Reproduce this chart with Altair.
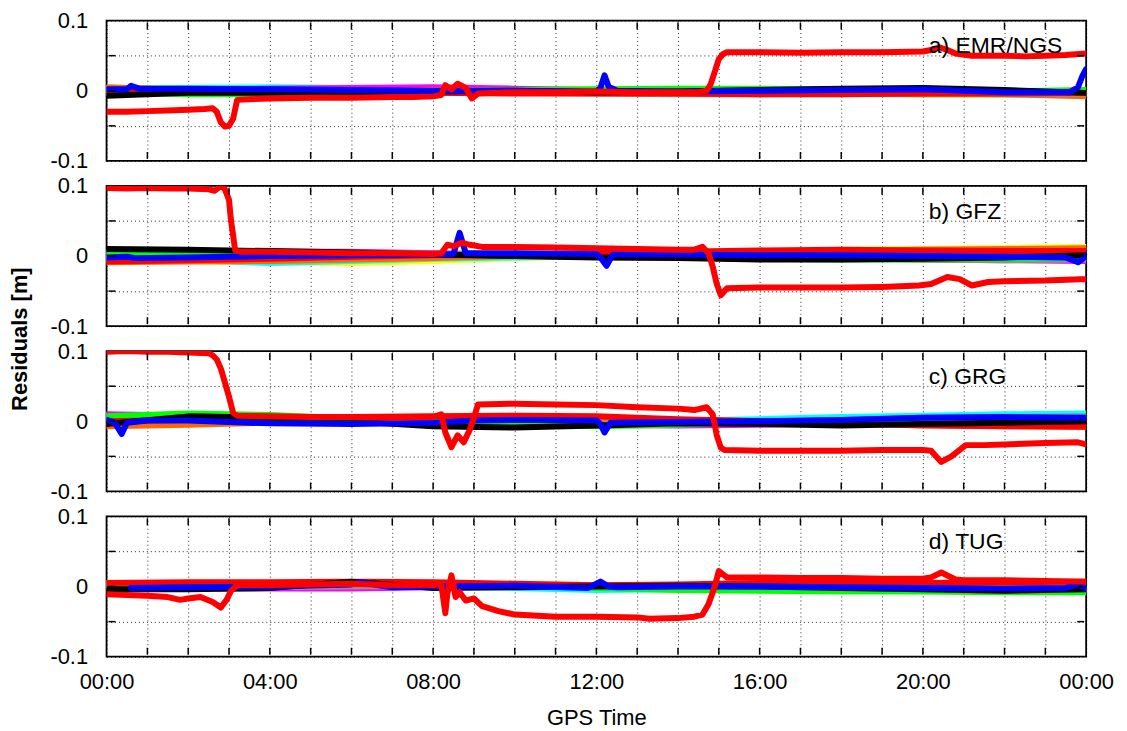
import altair as alt
import pandas as pd

FONT = "Liberation Sans"

# ---------------- data ----------------
panel_ids = ["a", "b", "c", "d"]
panel_labels = ["a) EMR/NGS", "b) GFZ", "c) GRG", "d) TUG"]

# minor tick positions (hours / metres)
tick_hours = list(range(1, 24))
tick_resid = [-0.05, 0.0, 0.05]

# common 2-hour time grid for the background satellites (hours)
t_bg = [0, 2, 4, 6, 8, 10, 12, 14, 16, 18, 20, 22, 24]

# ---- panel a) EMR/NGS ----
a_yellow = [0.004, 0.004, 0.003, 0.002, 0.001, 0.001, 0.0, -0.002, -0.003, -0.004, -0.005, -0.006, -0.005]
a_cyan = [0.003, 0.004, 0.005, 0.004, 0.003, 0.001, -0.001, -0.003, -0.005, -0.005, -0.005, -0.004, -0.003]
a_magenta = [0.002, 0.001, 0.003, 0.004, 0.005, 0.003, 0.001, 0.0, 0.0, -0.001, -0.001, -0.002, -0.001]
a_orange = [0.005, 0.001, 0.0, -0.001, 0.001, 0.0, -0.001, -0.003, -0.004, -0.004, -0.005, -0.005, -0.008]
a_gray = [-0.003, -0.003, -0.004, -0.004, -0.003, -0.003, -0.004, -0.005, -0.005, -0.004, -0.004, -0.005, -0.004]
a_green = [-0.002, -0.005, -0.005, -0.004, -0.001, 0.001, 0.002, 0.003, 0.003, 0.002, 0.0, -0.001, 0.001]
a_red2 = [0.001, 0.0, -0.001, -0.002, -0.003, -0.004, -0.004, -0.004, -0.005, -0.005, -0.004, -0.004, -0.003]
a_black = [-0.007, -0.003, -0.003, -0.002, -0.001, 0.0, -0.002, -0.001, 0.001, 0.003, 0.004, 0.001, -0.003]
a_blue_t = [0, 0.5, 0.6, 0.8, 2, 4, 6, 8, 10, 12, 12.1, 12.2, 12.3, 12.5, 14, 16, 18, 20, 22, 23.6, 23.8, 23.9, 24]
a_blue = [0.002, 0.002, 0.007, 0.003, 0.003, 0.002, 0.001, 0.0, 0.0, -0.001, 0.004, 0.022, 0.006, 0.0,
          -0.001, 0.0, 0.001, 0.002, -0.002, -0.002, 0.005, 0.02, 0.031]
a_red_t = [0, 0.5, 1, 1.5, 2, 2.4, 2.6, 2.7, 2.8, 2.9, 3.0, 3.1, 3.2, 3.5, 4, 5, 6, 7, 7.5, 8, 8.2, 8.3, 8.45,
           8.6, 8.8, 8.95, 9.1, 9.5, 10, 11, 12, 13, 14, 14.5, 14.7, 14.8, 14.9, 15.0, 15.1, 15.2, 16, 17,
           18, 19, 20, 20.2, 20.4, 20.6, 20.8, 21.2, 22, 22.5, 23, 23.5, 24]
a_red = [-0.030, -0.030, -0.029, -0.028, -0.027, -0.026, -0.025, -0.030, -0.045, -0.051, -0.050, -0.040,
         -0.013, -0.012, -0.011, -0.010, -0.010, -0.009, -0.009, -0.008, -0.006, 0.008, 0.002, 0.010, 0.004,
         -0.011, -0.004, -0.003, -0.002, -0.002, -0.001, -0.002, -0.002, -0.002, 0.0, 0.009, 0.027, 0.045,
         0.052, 0.055, 0.055, 0.054, 0.055, 0.055, 0.056, 0.058, 0.062, 0.058, 0.053, 0.050, 0.050, 0.049,
         0.050, 0.051, 0.053]

# ---- panel b) GFZ ----
b_yellow = [-0.004, -0.007, -0.009, -0.010, -0.007, -0.003, 0.0, 0.003, 0.006, 0.009, 0.010, 0.011, 0.013]
b_cyan = [-0.003, -0.006, -0.010, -0.007, -0.004, -0.002, 0.0, 0.002, 0.004, 0.006, 0.008, 0.009, 0.007]
b_magenta = [0.004, 0.005, 0.006, 0.006, 0.004, 0.002, 0.001, 0.0, -0.002, -0.003, -0.005, -0.006, -0.007]
b_orange = [-0.009, -0.008, -0.007, -0.005, -0.003, 0.0, 0.002, 0.004, 0.005, 0.007, 0.009, 0.010, 0.011]
b_gray = [0.005, 0.005, 0.004, 0.003, 0.001, 0.0, -0.001, -0.002, -0.003, -0.004, -0.005, -0.006, -0.005]
b_green = [0.001, 0.003, 0.005, 0.005, 0.003, 0.001, 0.0, -0.002, -0.004, -0.005, -0.005, -0.004, -0.003]
b_red2 = [-0.008, -0.006, -0.004, -0.001, 0.001, 0.002, 0.004, 0.006, 0.008, 0.009, 0.008, 0.007, 0.007]
b_black = [0.010, 0.009, 0.007, 0.005, 0.002, 0.0, -0.002, -0.003, -0.005, -0.005, -0.004, -0.002, 0.001]
b_blue_t = [0, 0.5, 0.7, 2, 4, 6, 8, 8.5, 8.65, 8.8, 10, 12, 12.1, 12.25, 12.4, 14, 16, 18, 20, 22, 23.5, 23.8, 24]
b_blue = [-0.002, -0.001, -0.003, -0.002, 0.0, 0.001, 0.002, 0.003, 0.033, 0.004, 0.004, 0.003, -0.002,
          -0.014, 0.002, 0.002, 0.001, 0.001, 0.0, -0.001, -0.002, -0.009, 0.0]
b_red_t = [0, 0.5, 1, 1.5, 2, 2.5, 2.65, 2.8, 2.9, 3.0, 3.05, 3.1, 3.15, 3.3, 4, 5, 6, 7, 8, 8.2, 8.35, 8.5,
           8.7, 8.9, 9.2, 10, 11, 12, 13, 14, 14.4, 14.6, 14.75, 14.85, 14.95, 15.05, 15.2, 16, 17, 18, 19,
           19.9, 20.2, 20.6, 20.9, 21.2, 21.6, 22, 23, 23.85, 24]
b_red = [0.097, 0.096, 0.097, 0.096, 0.096, 0.095, 0.093, 0.100, 0.095, 0.080, 0.050, 0.030, 0.008, 0.006,
         0.006, 0.005, 0.004, 0.004, 0.003, 0.004, 0.016, 0.014, 0.019, 0.016, 0.013, 0.013, 0.012, 0.011,
         0.010, 0.009, 0.009, 0.013, 0.004, -0.015, -0.040, -0.056, -0.046, -0.045, -0.045, -0.045, -0.044,
         -0.042, -0.040, -0.030, -0.033, -0.042, -0.037, -0.036, -0.035, -0.033, -0.033]

# ---- panel c) GRG ----
c_yellow = [0.009, 0.007, 0.005, 0.002, 0.0, -0.002, -0.004, -0.005, -0.004, -0.002, 0.0, 0.002, 0.005]
c_cyan = [0.008, 0.007, 0.006, 0.004, 0.002, 0.001, 0.0, 0.001, 0.003, 0.006, 0.008, 0.010, 0.011]
c_magenta = [0.010, 0.008, 0.005, 0.002, 0.0, -0.002, -0.005, -0.006, -0.005, -0.003, -0.002, -0.001, 0.0]
c_orange = [-0.007, -0.005, -0.002, 0.002, 0.006, 0.007, 0.005, 0.002, 0.0, -0.002, -0.005, -0.007, -0.008]
c_gray = [0.003, 0.005, 0.003, 0.001, -0.001, -0.003, -0.004, -0.002, 0.0, 0.002, 0.005, 0.006, 0.007]
c_green = [0.007, 0.011, 0.009, 0.004, 0.0, -0.004, -0.007, -0.005, -0.002, 0.0, -0.003, -0.006, -0.007]
c_red2 = [0.0, 0.002, 0.004, 0.006, 0.007, 0.008, 0.007, 0.003, 0.0, -0.003, -0.006, -0.007, -0.008]
c_black = [-0.004, 0.007, 0.005, 0.0, -0.007, -0.009, -0.006, -0.003, -0.004, -0.006, -0.004, -0.002, 0.0]
c_blue_t = [0, 0.2, 0.37, 0.5, 1, 2, 4, 6, 8, 9, 10, 12, 12.1, 12.2, 12.35, 14, 16, 18, 20, 22, 24]
c_blue = [0.002, -0.002, -0.018, -0.002, 0.001, 0.001, -0.003, -0.004, -0.002, 0.001, 0.002, 0.001, -0.004,
          -0.016, -0.002, -0.001, 0.0, 0.002, 0.005, 0.006, 0.005]
c_red_t = [0, 0.5, 1, 1.5, 2, 2.5, 2.6, 2.7, 2.8, 2.9, 3.0, 3.1, 3.2, 4, 5, 6, 7, 8, 8.2, 8.3, 8.45, 8.6,
           8.75, 8.9, 9.0, 9.1, 10, 11, 12, 13, 14, 14.4, 14.7, 14.85, 14.95, 15.05, 15.15, 16, 17, 18, 19,
           20, 20.2, 20.45, 20.7, 21.05, 21.5, 22, 23, 23.8, 24]
c_red = [0.099, 0.100, 0.099, 0.099, 0.098, 0.097, 0.094, 0.088, 0.075, 0.055, 0.035, 0.012, 0.008, 0.007,
         0.006, 0.006, 0.005, 0.006, 0.010, -0.016, -0.037, -0.020, -0.030, -0.012, 0.005, 0.024, 0.025,
         0.024, 0.023, 0.020, 0.018, 0.016, 0.020, 0.010, -0.020, -0.038, -0.041, -0.042, -0.042, -0.042,
         -0.041, -0.041, -0.042, -0.058, -0.050, -0.034, -0.034, -0.033, -0.031, -0.030, -0.033]

# ---- panel d) TUG ----
d_yellow = [0.005, 0.004, 0.005, 0.004, 0.002, 0.001, 0.0, -0.001, -0.002, -0.003, -0.004, -0.005, -0.006]
d_cyan = [0.003, 0.002, 0.001, 0.0, 0.0, -0.002, -0.005, -0.004, -0.002, -0.003, -0.005, -0.006, -0.006]
d_magenta = [0.001, -0.002, -0.003, -0.003, -0.001, 0.0, 0.001, 0.001, 0.0, -0.001, -0.001, -0.002, -0.001]
d_orange = [0.002, 0.003, 0.004, 0.005, 0.003, 0.002, 0.001, 0.0, -0.001, -0.002, -0.003, -0.002, -0.001]
d_gray = [-0.003, -0.003, -0.001, 0.0, 0.001, 0.002, 0.002, 0.001, 0.0, -0.001, -0.002, -0.003, -0.004]
d_green = [0.001, 0.002, 0.004, 0.004, 0.002, 0.001, -0.002, -0.005, -0.006, -0.007, -0.007, -0.008, -0.008]
d_red2 = [0.005, 0.006, 0.006, 0.007, 0.006, 0.004, 0.002, 0.003, 0.005, 0.005, 0.005, 0.006, 0.007]
d_black = [-0.004, -0.004, -0.002, 0.007, -0.002, -0.001, 0.0, 0.001, 0.0, -0.002, -0.004, -0.006, -0.004]
d_blue_t = [0.6, 2, 4, 6, 6.2, 7, 8, 10, 11.8, 12.1, 12.3, 12.5, 14, 16, 18, 20, 22, 23.5, 23.8, 24]
d_blue = [-0.002, -0.001, 0.0, 0.003, 0.006, -0.001, 0.0, 0.001, -0.002, 0.007, 0.0, -0.001, 0.0, 0.0,
          -0.001, -0.002, -0.003, -0.002, 0.003, -0.003]
d_red_t = [0, 0.5, 1, 1.5, 1.8, 2.0, 2.3, 2.6, 2.8, 2.95, 3.05, 3.2, 4, 5, 6, 7, 8, 8.2, 8.3, 8.35, 8.45,
           8.55, 8.65, 8.8, 9.0, 9.2, 9.6, 10, 11, 12, 13, 13.3, 14, 14.4, 14.6, 14.75, 14.9, 15.0, 15.2,
           16, 17, 18, 19, 20, 20.2, 20.45, 20.8, 21, 22, 23, 24]
d_red = [-0.011, -0.012, -0.013, -0.015, -0.019, -0.017, -0.015, -0.022, -0.030, -0.018, -0.006, 0.002,
         0.002, 0.003, 0.004, 0.002, 0.002, 0.003, -0.038, -0.010, 0.016, -0.015, -0.008, -0.020, -0.017,
         -0.028, -0.035, -0.040, -0.043, -0.043, -0.044, -0.046, -0.045, -0.043, -0.040, -0.025, 0.0,
         0.022, 0.013, 0.013, 0.012, 0.012, 0.011, 0.011, 0.013, 0.020, 0.010, 0.009, 0.009, 0.008, 0.007]

# series draw order and colours
series_order = ["yellow", "cyan", "magenta", "orange", "gray", "green", "red2", "black", "blue", "red"]
series_colors = ["#ffff00", "#00ffff", "#ff00ff", "#ff6600", "#909090", "#00ff00", "#ff0000",
                 "#000000", "#0000ff", "#ff0000"]

panel_data = {
    "a": {"yellow": (t_bg, a_yellow), "cyan": (t_bg, a_cyan), "magenta": (t_bg, a_magenta),
          "orange": (t_bg, a_orange), "gray": (t_bg, a_gray), "green": (t_bg, a_green),
          "red2": (t_bg, a_red2), "black": (t_bg, a_black), "blue": (a_blue_t, a_blue),
          "red": (a_red_t, a_red)},
    "b": {"yellow": (t_bg, b_yellow), "cyan": (t_bg, b_cyan), "magenta": (t_bg, b_magenta),
          "orange": (t_bg, b_orange), "gray": (t_bg, b_gray), "green": (t_bg, b_green),
          "red2": (t_bg, b_red2), "black": (t_bg, b_black), "blue": (b_blue_t, b_blue),
          "red": (b_red_t, b_red)},
    "c": {"yellow": (t_bg, c_yellow), "cyan": (t_bg, c_cyan), "magenta": (t_bg, c_magenta),
          "orange": (t_bg, c_orange), "gray": (t_bg, c_gray), "green": (t_bg, c_green),
          "red2": (t_bg, c_red2), "black": (t_bg, c_black), "blue": (c_blue_t, c_blue),
          "red": (c_red_t, c_red)},
    "d": {"yellow": (t_bg, d_yellow), "cyan": (t_bg, d_cyan), "magenta": (t_bg, d_magenta),
          "orange": (t_bg, d_orange), "gray": (t_bg, d_gray), "green": (t_bg, d_green),
          "red2": (t_bg, d_red2), "black": (t_bg, d_black), "blue": (d_blue_t, d_blue),
          "red": (d_red_t, d_red)},
}

rows = []
for pid, plabel in zip(panel_ids, panel_labels):
    for s in series_order:
        ts, vs = panel_data[pid][s]
        assert len(ts) == len(vs), (pid, s, len(ts), len(vs))
        for t, v in zip(ts, vs):
            rows.append({"panel": pid, "label": plabel, "series": s, "t": t, "v": v})
    for h in tick_hours:
        rows.append({"panel": pid, "label": plabel, "series": "xtick", "t": h, "v": 0.0})
    for r in tick_resid:
        rows.append({"panel": pid, "label": plabel, "series": "ytick", "t": 0.0, "v": r})
df = pd.DataFrame(rows)

W, H = 984, 141

# ---------------- chart ----------------
x_scale = alt.Scale(domain=[0, 24], nice=False, zero=False)
y_scale = alt.Scale(domain=[-0.1, 0.1], nice=False, zero=False)

x_axis = alt.Axis(
    values=list(range(25)),
    labelExpr="datum.value % 4 == 0 ? ((datum.value % 24) < 10 ? '0' : '') + (datum.value % 24) + ':00' : ''",
    title="GPS Time",
    grid=True, gridDash=[1, 3], gridColor="#000000", gridWidth=1, gridOpacity=0.85,
    ticks=False, domain=False, labelOverlap=False, labelFlush=False,
    labelFontSize=22, titleFontSize=22, labelPadding=14, titlePadding=15,
    titleFontWeight="normal", labelColor="black", titleColor="black",
)
y_axis = alt.Axis(
    values=[-0.1, -0.05, 0, 0.05, 0.1],
    labelExpr="datum.value > 0.09 ? '0.1' : (datum.value < -0.09 ? '-0.1' : (abs(datum.value) < 0.001 ? '0' : ''))",
    title=None,
    grid=True, gridDash=[1, 3], gridColor="#000000", gridWidth=1, gridOpacity=0.85,
    ticks=False, domain=False, labelOverlap=False, labelFlush=False,
    labelFontSize=22, labelPadding=18, labelColor="black",
)

x_enc = alt.X("t:Q", scale=x_scale, title="GPS Time", axis=x_axis)
y_enc = alt.Y("v:Q", scale=y_scale, title=None, axis=y_axis)

layers = []
for s, c in zip(series_order, series_colors):
    layers.append(
        alt.Chart()
        .mark_line(color=c, strokeWidth=6, strokeCap="round", strokeJoin="round", clip=True)
        .encode(x=x_enc, y=y_enc, detail="series:N")
        .transform_filter(alt.datum.series == s)
    )

# inward tick marks on all four sides, kept strictly inside the frame
tick_x_top = (
    alt.Chart().mark_rule(color="black", strokeWidth=1.5)
    .encode(x=x_enc, y=alt.value(2), y2=alt.value(9))
    .transform_filter(alt.datum.series == "xtick")
)
tick_x_bot = (
    alt.Chart().mark_rule(color="black", strokeWidth=1.5)
    .encode(x=x_enc, y=alt.value(H - 2), y2=alt.value(H - 9))
    .transform_filter(alt.datum.series == "xtick")
)
tick_y_left = (
    alt.Chart().mark_rule(color="black", strokeWidth=1.5)
    .encode(y=y_enc, x=alt.value(2), x2=alt.value(9))
    .transform_filter(alt.datum.series == "ytick")
)
tick_y_right = (
    alt.Chart().mark_rule(color="black", strokeWidth=1.5)
    .encode(y=y_enc, x=alt.value(W - 2), x2=alt.value(W - 9))
    .transform_filter(alt.datum.series == "ytick")
)

label_layer = (
    alt.Chart()
    .mark_text(align="left", baseline="middle", fontSize=23, font=FONT, color="black")
    .encode(text="label:N", x=alt.value(826), y=alt.value(26))
    .transform_filter(alt.datum.series == "red")
    .transform_aggregate(n="count()", groupby=["panel", "label"])
)

chart = (
    alt.layer(*layers, tick_x_top, tick_x_bot, tick_y_left, tick_y_right, label_layer, data=df)
    .properties(width=W, height=H)
    .facet(
        row=alt.Row(
            "panel:N",
            title="Residuals [m]",
            header=alt.Header(labels=False, titleFontSize=22, titleFontWeight="bold",
                              titleColor="black", titleFont=FONT, titlePadding=8),
        ),
        spacing=23,
    )
    .configure(font=FONT)
    .configure_view(stroke="black", strokeWidth=1.8)
    .properties(padding={"left": 0, "top": 0, "right": 5, "bottom": 2}, background="white")
)

chart.save("out.html", embed_options={"renderer": "svg", "actions": False})
